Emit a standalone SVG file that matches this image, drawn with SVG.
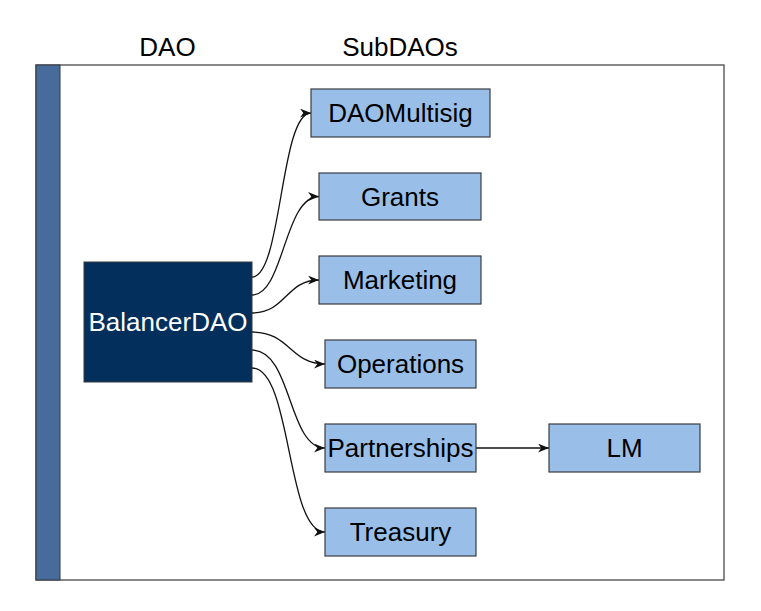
<svg xmlns="http://www.w3.org/2000/svg" width="761" height="611" viewBox="0 0 761 611">
<defs>
<style>
.t{font-family:"Liberation Sans",Arial,sans-serif;font-size:26px;text-anchor:middle;fill:#000}
.n{fill:#99BFE9;stroke:#3a3d42;stroke-width:1.2}
.e{fill:none;stroke:#111;stroke-width:1.3}
</style>
<marker id="ah" viewBox="0 0 10 8" refX="10" refY="4" markerWidth="11" markerHeight="9" markerUnits="userSpaceOnUse" orient="auto">
<path d="M0,0 L10,4 L0,8 L3,4 z" fill="#111"/>
</marker>
</defs>
<rect width="761" height="611" fill="#fff"/>
<g id="container">
<rect x="36" y="65" width="688" height="515" fill="#fff" stroke="#36393d" stroke-width="1.2"/>
<rect x="36" y="65" width="24" height="515" fill="#476C9B" stroke="#36393d" stroke-width="1"/>
<text class="t" x="167.5" y="56">DAO</text>
<text class="t" x="400" y="56">SubDAOs</text>
</g>
<g id="connectors">
<path class="e" d="M252 277 C282 277 280 113 311 113" marker-end="url(#ah)"/>
<path class="e" d="M252 295 C284 295 284 196.5 319 196.5" marker-end="url(#ah)"/>
<path class="e" d="M252 313 C286 313 286 280 319 280" marker-end="url(#ah)"/>
<path class="e" d="M252 332 C290 332 290 364 325 364" marker-end="url(#ah)"/>
<path class="e" d="M252 350 C292 350 288 448 325 448" marker-end="url(#ah)"/>
<path class="e" d="M252 368 C292 368 286 532 325 532" marker-end="url(#ah)"/>
<path class="e" d="M476 448 L549 448" marker-end="url(#ah)"/>
</g>
<g id="BalancerDAO">
<rect x="84" y="262" width="168" height="120" fill="#022F5C" stroke="#36393d" stroke-width="1"/>
<text class="t" x="168" y="331" style="fill:#fff">BalancerDAO</text>
</g>
<g id="DAOMultisig">
<rect class="n" x="311" y="89" width="179" height="48"/>
<text class="t" x="400.5" y="122">DAOMultisig</text>
</g>
<g id="Grants">
<rect class="n" x="319" y="173" width="162" height="47"/>
<text class="t" x="400" y="205.5">Grants</text>
</g>
<g id="Marketing">
<rect class="n" x="319" y="256" width="162" height="48"/>
<text class="t" x="400" y="289">Marketing</text>
</g>
<g id="Operations">
<rect class="n" x="325" y="340" width="151" height="48"/>
<text class="t" x="400.5" y="373">Operations</text>
</g>
<g id="Partnerships">
<rect class="n" x="325" y="424" width="151" height="48"/>
<text class="t" x="400.5" y="457">Partnerships</text>
</g>
<g id="Treasury">
<rect class="n" x="325" y="508" width="151" height="48"/>
<text class="t" x="400.5" y="541">Treasury</text>
</g>
<g id="LM">
<rect class="n" x="549" y="424" width="151" height="48"/>
<text class="t" x="624.5" y="457">LM</text>
</g>
</svg>
